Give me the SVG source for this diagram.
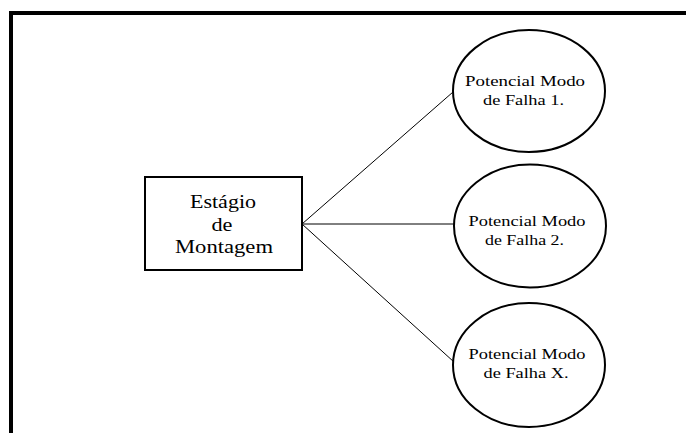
<svg xmlns="http://www.w3.org/2000/svg" width="686" height="433" viewBox="0 0 686 433">
  <style>
    .frame { fill: none; stroke: #000; stroke-width: 4; stroke-linejoin: miter; }
    .box { fill: #fff; stroke: #000; stroke-width: 2; }
    .oval { fill: #fff; stroke: #000; stroke-width: 2; }
    .link { stroke: #000; stroke-width: 1; fill: none; }
    .t { fill: #000; text-anchor: middle; }
    .tb { font-size: 18px; }
    .to { font-size: 14px; }
  </style>
  <rect width="686" height="433" fill="#fff"/>
  <!-- page frame -->
  <path class="frame" d="M11,433 V13 H686"/>

  <!-- connectors -->
  <g id="connectors">
    <line class="link" x1="302" y1="224" x2="453" y2="92"/>
    <line class="link" x1="302" y1="224" x2="454" y2="224"/>
    <line class="link" x1="302" y1="224" x2="454" y2="362"/>
  </g>

  <g font-family="Liberation Serif, Times New Roman, serif">
    <g id="stage">
      <rect class="box" x="145" y="177" width="157" height="93"/>
      <text class="t tb" x="223" y="208" textLength="66" lengthAdjust="spacingAndGlyphs">Estágio</text>
      <text class="t tb" x="222" y="231" textLength="21" lengthAdjust="spacingAndGlyphs">de</text>
      <text class="t tb" x="224" y="253" textLength="98" lengthAdjust="spacingAndGlyphs">Montagem</text>
    </g>

    <g id="failure1">
      <ellipse class="oval" cx="529" cy="91" rx="76" ry="61"/>
      <text class="t to" x="525" y="86" textLength="120" lengthAdjust="spacingAndGlyphs">Potencial Modo</text>
      <text class="t to" x="523.5" y="105" textLength="81" lengthAdjust="spacingAndGlyphs">de Falha 1.</text>
    </g>

    <g id="failure2">
      <ellipse class="oval" cx="530" cy="226" rx="76" ry="61.5"/>
      <text class="t to" x="527" y="226" textLength="117" lengthAdjust="spacingAndGlyphs">Potencial Modo</text>
      <text class="t to" x="524.5" y="244.5" textLength="79" lengthAdjust="spacingAndGlyphs">de Falha 2.</text>
    </g>

    <g id="failureX">
      <ellipse class="oval" cx="529" cy="365" rx="76" ry="62"/>
      <text class="t to" x="527" y="359" textLength="117" lengthAdjust="spacingAndGlyphs">Potencial Modo</text>
      <text class="t to" x="526" y="377.5" textLength="85" lengthAdjust="spacingAndGlyphs">de Falha X.</text>
    </g>
  </g>
</svg>
